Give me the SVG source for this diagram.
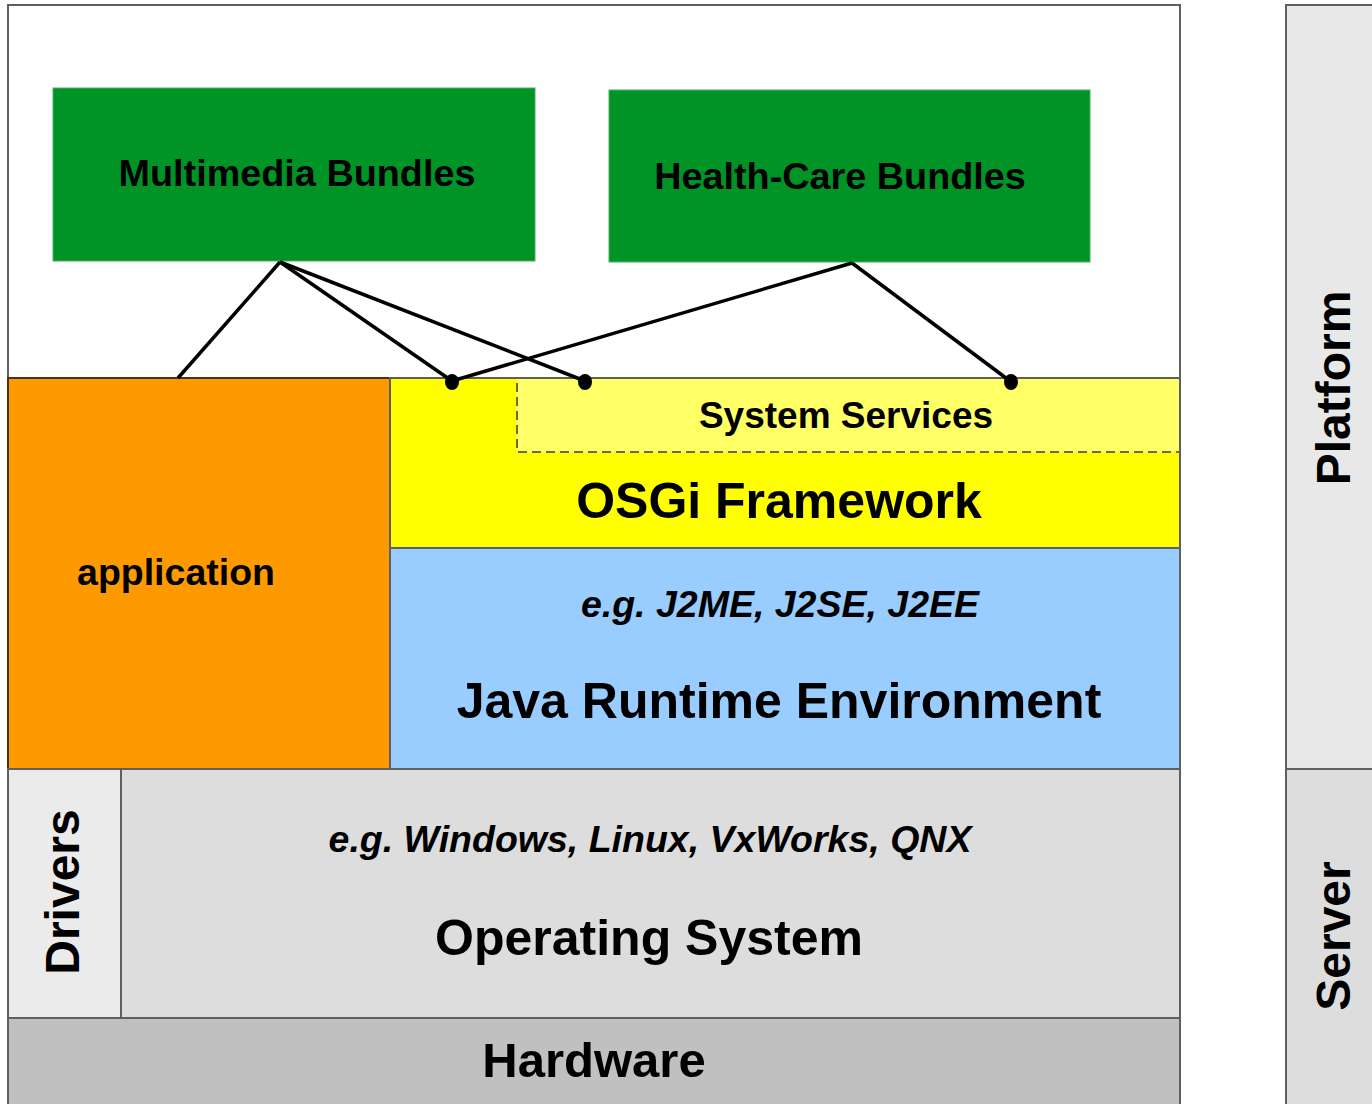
<svg xmlns="http://www.w3.org/2000/svg" width="1372" height="1104" viewBox="0 0 1372 1104">
  <style>
    .lbl { font-family: "Liberation Sans", Arial, sans-serif; font-weight: bold; fill: #000; }
    .it { font-style: italic; }
    .layer { stroke: #5f5f5f; stroke-width: 2; }
    .conn { stroke: #000; stroke-width: 3.5; fill: none; }
  </style>
  <rect x="0" y="0" width="1372" height="1104" fill="#fff"/>

  <!-- outer frame -->
  <rect x="8" y="5" width="1172" height="1110" fill="#fff" stroke="#5f5f5f" stroke-width="2"/>

  <g id="multimedia-bundles">
    <rect x="53" y="88" width="482" height="173" fill="#009426" stroke="#4caf5f" stroke-width="1"/>
    <text class="lbl" x="297" y="186" font-size="37.8" text-anchor="middle">Multimedia Bundles</text>
  </g>

  <g id="healthcare-bundles">
    <rect x="609" y="90" width="481" height="172" fill="#009426" stroke="#4caf5f" stroke-width="1"/>
    <text class="lbl" x="840" y="189" font-size="37.8" text-anchor="middle">Health-Care Bundles</text>
  </g>

  <g id="application">
    <rect x="8" y="378" width="382" height="391" fill="#ff9900" stroke="#4a3300" stroke-width="2"/>
    <text class="lbl" x="176" y="585" font-size="37.5" text-anchor="middle">application</text>
  </g>

  <g id="osgi-framework">
    <rect x="390" y="378" width="790" height="170" fill="#ffff00" class="layer"/>
    <text class="lbl" x="779" y="518" font-size="50" text-anchor="middle">OSGi Framework</text>
  </g>

  <g id="system-services">
    <rect x="517" y="379" width="662" height="73" fill="#ffff66"/>
    <path d="M517 383 V452 H1180" fill="none" stroke="#6b6b3a" stroke-width="2" stroke-dasharray="9 5"/>
    <text class="lbl" x="846" y="428" font-size="37" text-anchor="middle">System Services</text>
  </g>

  <g id="java-runtime">
    <rect x="390" y="548" width="790" height="221" fill="#99ccff" class="layer"/>
    <text class="lbl it" x="780" y="617" font-size="37.5" text-anchor="middle">e.g. J2ME, J2SE, J2EE</text>
    <text class="lbl" x="779" y="718" font-size="50" text-anchor="middle">Java Runtime Environment</text>
  </g>

  <g id="drivers">
    <rect x="8" y="769" width="113" height="249" fill="#ebebeb" class="layer"/>
    <text class="lbl" transform="translate(79 892) rotate(-90)" font-size="48" text-anchor="middle">Drivers</text>
  </g>

  <g id="operating-system">
    <rect x="121" y="769" width="1059" height="249" fill="#dddddd" class="layer"/>
    <text class="lbl it" x="650" y="852" font-size="37.5" text-anchor="middle">e.g. Windows, Linux, VxWorks, QNX</text>
    <text class="lbl" x="649" y="955" font-size="50" text-anchor="middle">Operating System</text>
  </g>

  <g id="hardware">
    <rect x="8" y="1018" width="1172" height="100" fill="#c0c0c0" class="layer"/>
    <text class="lbl" x="594" y="1077" font-size="49" text-anchor="middle">Hardware</text>
  </g>

  <g id="platform">
    <rect x="1286" y="5" width="100" height="764" fill="#e8e8e8" class="layer"/>
    <text class="lbl" transform="translate(1350 388) rotate(-90)" font-size="48" text-anchor="middle">Platform</text>
  </g>

  <g id="server">
    <rect x="1286" y="769" width="100" height="350" fill="#dddddd" class="layer"/>
    <text class="lbl" transform="translate(1350 936) rotate(-90)" font-size="48" text-anchor="middle">Server</text>
  </g>

  <g id="connectors">
    <path class="conn" d="M280 262 L178 378"/>
    <path class="conn" d="M280 262 L452 381"/>
    <path class="conn" d="M280 262 L585 381"/>
    <path class="conn" d="M852 263 L452 381"/>
    <path class="conn" d="M852 263 L1010 381"/>
    <ellipse cx="452" cy="382" rx="7" ry="8" fill="#000"/>
    <ellipse cx="585" cy="382" rx="7" ry="8" fill="#000"/>
    <ellipse cx="1011" cy="382" rx="7" ry="8" fill="#000"/>
  </g>
</svg>
